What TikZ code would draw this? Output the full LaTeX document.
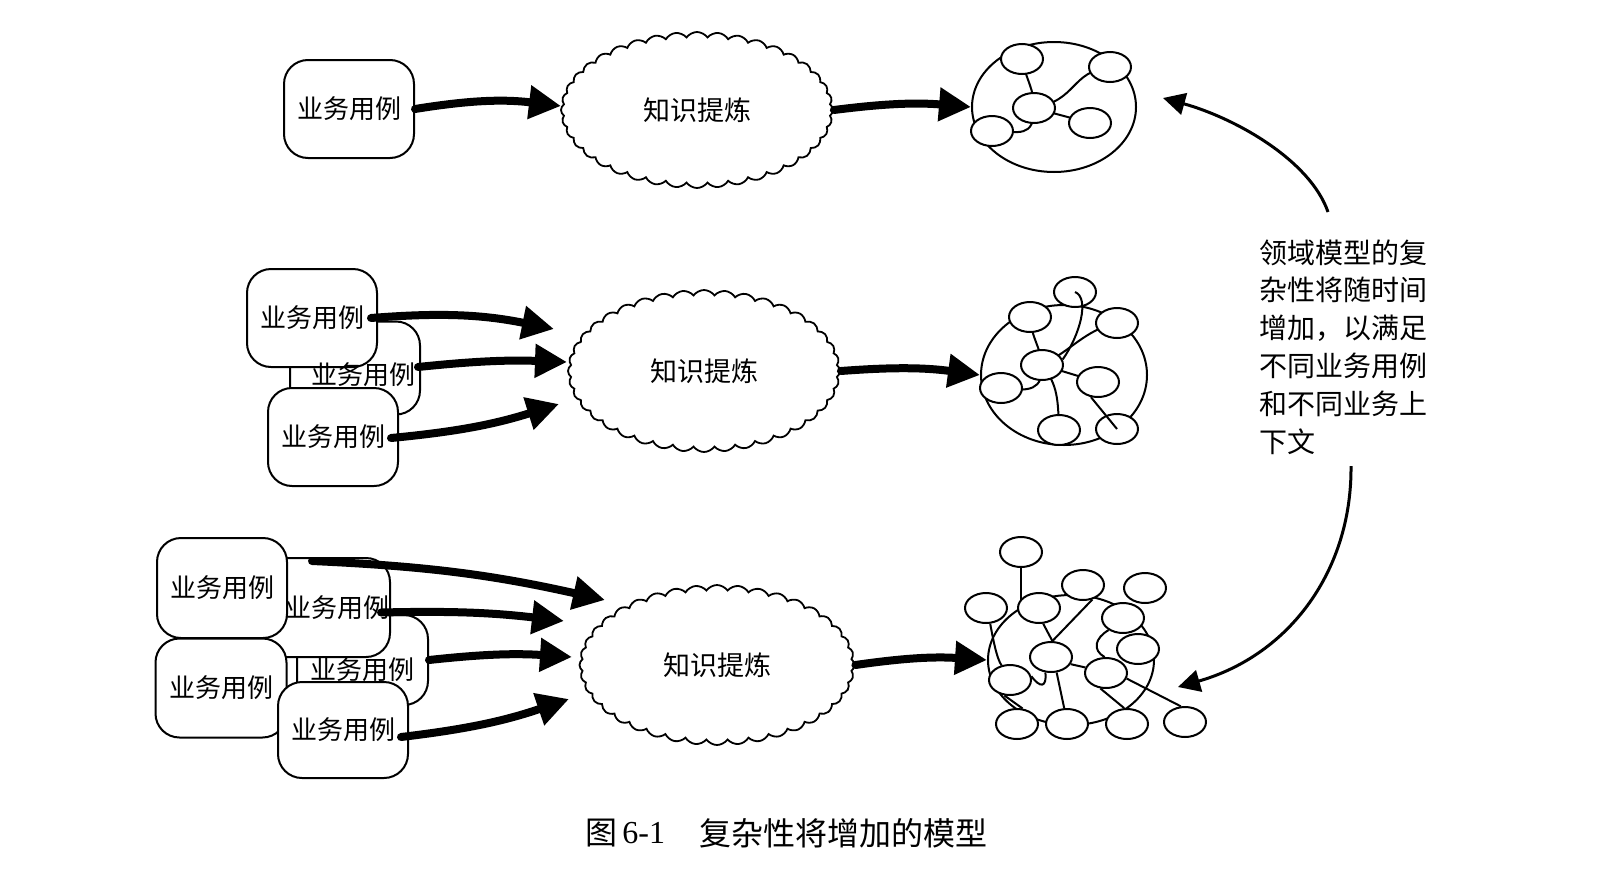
\documentclass[tikz,border=0pt]{standalone}
\usepackage{fontspec}
\setmainfont{Liberation Serif}
\newfontfamily\cjk{Noto Sans CJK SC}
\usetikzlibrary{shapes.geometric,shapes.symbols,arrows.meta,backgrounds,calc}
\begin{document}
\begin{tikzpicture}[x=0.5pt,y=-0.5pt,
  ucbox/.style={draw,line width=1pt,rounded corners=12pt,fill=white,minimum width=65pt,minimum height=49pt,inner sep=0pt,font=\cjk\fontsize{13}{15}\selectfont},
  lbl/.style={inner sep=0pt,font=\cjk\fontsize{13}{15}\selectfont},
  cloudn/.style={cloud,draw,line width=0.9pt,cloud puffs=40,cloud puff arc=110,cloud ignores aspect,minimum width=136pt,minimum height=78pt,inner sep=0pt,font=\cjk\fontsize{13.5}{15}\selectfont},
  bigarrow/.style={line width=4pt,line cap=round,-{Triangle[length=16pt,width=16pt]}},
  sm/.style={ellipse,draw,line width=1pt,fill=white,minimum width=21pt,minimum height=15pt,inner sep=0pt},
  bigc/.style={ellipse,draw,line width=1pt,inner sep=0pt},
  ed/.style={line width=1pt},
  curvarrow/.style={line width=1.5pt,-{Triangle[length=11pt,width=11pt]}}
]
\begin{pgfonlayer}{background}
\fill[white] (0,0) rectangle (1618,868);
\end{pgfonlayer}
\useasboundingbox (0,0) rectangle (1618,868);

% ---------------- row 1
\node[ucbox] (a1) at (349,109) {业务用例};
\node[cloudn] (c1) at (697,110) {知识提炼};
\node[bigc,minimum width=82pt,minimum height=65pt] (g1) at (1054,107) {};
\node[sm] (n1) at (1022,59) {};
\node[sm] (n2) at (1110,67) {};
\node[sm] (n3) at (1034,108) {};
\node[sm] (n4) at (1090,123) {};
\node[sm] (n5) at (992,131) {};
\begin{pgfonlayer}{background}
\draw[ed] (n1.center) .. controls (1026,80) and (1034,88) .. (n3.center);
\draw[ed] (n3.center) .. controls (1078,100) and (1070,72) .. (n2.center);
\draw[ed] (n3.center) -- (n4.center);
\draw[ed] (n3.center) .. controls (1034,138) and (1020,132) .. (n5.center);
\end{pgfonlayer}
\coordinate (t11) at (561,106);
\draw[bigarrow] (a1.east) to[bend left=8] (t11);
\draw[bigarrow] (c1.east) to[bend left=6] (g1.west);

% ---------------- row 2
\node[ucbox,minimum height=46.5pt] (b2) at (355,368) {};
\node[ucbox] (b1) at (312,318) {业务用例};
\node[ucbox] (b3) at (333,437) {业务用例};
\node[lbl] (b2t) at (363,375) {业务用例};
\node[cloudn,minimum height=81pt] (c2) at (704,371) {知识提炼};
\node[bigc,minimum width=83pt,minimum height=70pt] (g2) at (1064,375) {};
\node[sm] (m1) at (1075,292) {};
\node[sm] (m2) at (1030,317) {};
\node[sm] (m3) at (1117,323) {};
\node[sm] (m4) at (1042,365) {};
\node[sm] (m5) at (1001,388) {};
\node[sm] (m6) at (1098,382) {};
\node[sm] (m7) at (1059,430) {};
\node[sm] (m8) at (1117,429) {};
\begin{pgfonlayer}{background}
\draw[ed] (m2.center) .. controls (1032,340) and (1040,345) .. (m4.center);
\draw[ed] (m3.center) .. controls (1085,330) and (1072,350) .. (m4.center);
\draw[ed] (m4.center) -- (m6.center);
\draw[ed] (m4.center) .. controls (1043,390) and (1030,392) .. (m5.center);
\draw[ed] (m4.center) .. controls (1058,385) and (1058,400) .. (m7.center);
\end{pgfonlayer}
\draw[ed] (m1.center) .. controls (1090,298) and (1080,335) .. (m4.15);
\draw[ed] (m6.-115) -- (m8.center);
\coordinate (t21) at (554,329);
\coordinate (t22) at (567,362);
\coordinate (t23) at (559,404);
\draw[bigarrow] ($(b1.east)+(-7,0)$) to[bend left=8] (t21);
\draw[bigarrow] ($(b2.east)+(-3,-1)$) to[bend left=4] (t22);
\draw[bigarrow] ($(b3.east)+(-8,1)$) to[bend right=6] (t23);
\draw[bigarrow] (c2.east) to[bend left=6] (g2.west);

% ---------------- row 3
\node[ucbox,minimum width=65.5pt,minimum height=45pt] (d3) at (362.5,660) {};
\node[ucbox,minimum width=64pt,minimum height=49.5pt] (d2) at (326,607.5) {};
\node[ucbox,minimum height=50pt] (d1) at (222,588) {业务用例};
\node[ucbox,minimum width=65.5pt,minimum height=49.5pt] (d4) at (221,688) {业务用例};
\node[ucbox,minimum height=48pt] (d5) at (343,730) {业务用例};
\node[lbl] (d2t) at (337,608) {业务用例};
\node[lbl] (d3t) at (362,670) {业务用例};
\node[cloudn,minimum width=137.5pt,minimum height=80pt] (c3) at (717,665) {知识提炼};
\node[bigc,minimum width=83pt,minimum height=65pt] (g3) at (1071,660) {};
\node[sm] (p1) at (1021,552) {};
\node[sm] (p2) at (986,608) {};
\node[sm] (p3) at (1039,608) {};
\node[sm] (p4) at (1083,585) {};
\node[sm] (p5) at (1145,588) {};
\node[sm] (p6) at (1123,618) {};
\node[sm] (p7) at (1051,657) {};
\node[sm] (p8) at (1138,649) {};
\node[sm] (p9) at (1010,680) {};
\node[sm] (p10) at (1106,673) {};
\node[sm] (p11) at (1017,724) {};
\node[sm] (p12) at (1067,724) {};
\node[sm] (p13) at (1127,724) {};
\node[sm] (p14) at (1185,722) {};
\begin{pgfonlayer}{background}
\draw[ed] (p1.center) -- (p1.center |- p3.center);
\end{pgfonlayer}
\draw[ed] (p4.-57) -- (p7.85);
\draw[ed] (p3.-75) -- (p7.85);
\draw[ed] (p6.-140) .. controls (1095,638) and (1092,650) .. (p10.95);
\draw[ed] (p7.-20) -- (p10.165);
\draw[ed] (p7.-110) .. controls (1047,688) and (1040,688) .. (p9.10);
\draw[ed] (p7.-70) -- (p12.100);
\draw[ed] (p10.-110) -- (p13.100);
\draw[ed] (p10.-15) -- (p14.105);
\draw[ed] (p9.-110) -- (p11.70);
\draw[ed] (p2.-75) .. controls (995,650) and (998,660) .. (p9.120);
\coordinate (t31) at (605,600);
\coordinate (t32) at (564,621);
\coordinate (t33) at (572,657);
\coordinate (t34) at (569,699);
\draw[bigarrow] ($(d2.north)+(-14,4)$) to[bend left=5] (t31);
\draw[bigarrow] ($(d2.east)+(-10,5)$) to[bend left=4] (t32);
\draw[bigarrow] (d3.east) to[bend left=5] (t33);
\draw[bigarrow] ($(d5.east)+(-8,7)$) to[bend right=6] (t34);
\draw[bigarrow] (c3.east) to[bend left=6] (g3.west);

% ---------------- right text and arrows
\node[anchor=north west,align=left,inner sep=0pt,font=\cjk\fontsize{14}{18.9}\selectfont] (tx) at (1259,239)
  {领域模型的复\\杂性将随时间\\增加，以满足\\不同业务用例\\和不同业务上\\下文};
\coordinate (u1) at (1328,212);
\coordinate (u2) at (1163,98);
\coordinate (l1) at (1351,466);
\coordinate (l2) at (1178,687);
\draw[curvarrow] (u1) .. controls (1310,160) and (1235,118) .. (u2);
\draw[curvarrow] (l1) .. controls (1352,570) and (1290,655) .. (l2);

% ---------------- caption
\node[anchor=west,inner sep=0pt,font=\cjk\fontsize{16}{18}\selectfont] (cap1) at (585,833) {图};
\node[anchor=west,inner sep=0pt,font=\fontsize{16}{18}\selectfont] (cap2) at (622,833) {6-1};
\node[anchor=west,inner sep=0pt,font=\cjk\fontsize{16}{18}\selectfont] (cap3) at (699,833) {复杂性将增加的模型};
\end{tikzpicture}
\end{document}
